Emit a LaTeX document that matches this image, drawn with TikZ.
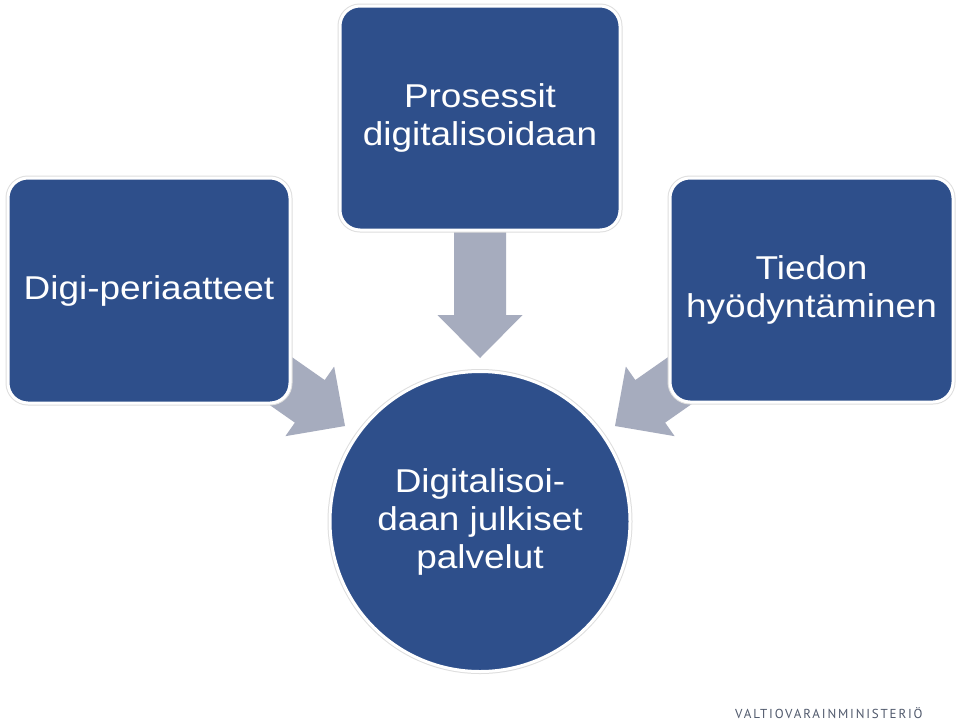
\documentclass[tikz,border=0pt]{standalone}
\usepackage{fontspec}
\setmainfont{Liberation Sans}[FakeStretch=1.12]
\newfontfamily\logofont{PT Sans}[LetterSpace=14]
\definecolor{boxblue}{RGB}{46,79,139}
\definecolor{arrowgray}{RGB}{166,172,190}
\definecolor{logogray}{RGB}{80,89,108}
\tikzset{
  blockarrow/.pic={
    \fill[arrowgray] (-135,-26) -- (-43,-26) -- (-43,-42.5) -- (0,0) -- (-43,42.5) -- (-43,26) -- (-135,26) -- cycle;
  },
  bluebox/.style={
    rectangle, rounded corners=20pt, fill=boxblue, draw=white, line width=3pt,
    preaction={draw=black!13, line width=5pt},
    text=white, align=center, inner sep=0pt,
    font=\fontsize{33}{38}\selectfont
  },
  bluecircle/.style={
    circle, fill=boxblue, draw=white, line width=3pt,
    preaction={draw=black!13, line width=5pt},
    text=white, align=center, inner sep=0pt,
    font=\fontsize{33}{38}\selectfont
  }
}
\begin{document}
\begin{tikzpicture}[x=1pt,y=-1pt]
\useasboundingbox (0,0) rectangle (960,726);
\fill[white] (0,0) rectangle (960,726);
% arrow tips
\coordinate (tipL) at (345,426);
\coordinate (tipT) at (480,358);
\coordinate (tipR) at (615,426);
\pic[rotate=-35] at (tipL) {blockarrow};
\pic[rotate=-90] at (tipT) {blockarrow};
\pic[rotate=-145] at (tipR) {blockarrow};
% boxes
\node[bluebox, minimum width=282pt, minimum height=225pt] (left) at (149,290.5) {Digi-periaatteet};
\node[bluebox, minimum width=280pt, minimum height=224pt] (top) at (480,118) {Prosessit\\digitalisoidaan};
\node[bluebox, minimum width=283pt, minimum height=224pt] (right) at (811.5,290) {Tiedon\\hyödyntäminen};
\node[bluecircle, minimum size=300pt] (center) at (480,521.5) {Digitalisoi-\\daan julkiset\\palvelut};
% logo
\node[anchor=base west, inner sep=0pt, text=logogray, font=\logofont\fontsize{13}{15}\selectfont] (logo) at (735,718) {VALTIOVARAINMINISTERIÖ};
\end{tikzpicture}
\end{document}
